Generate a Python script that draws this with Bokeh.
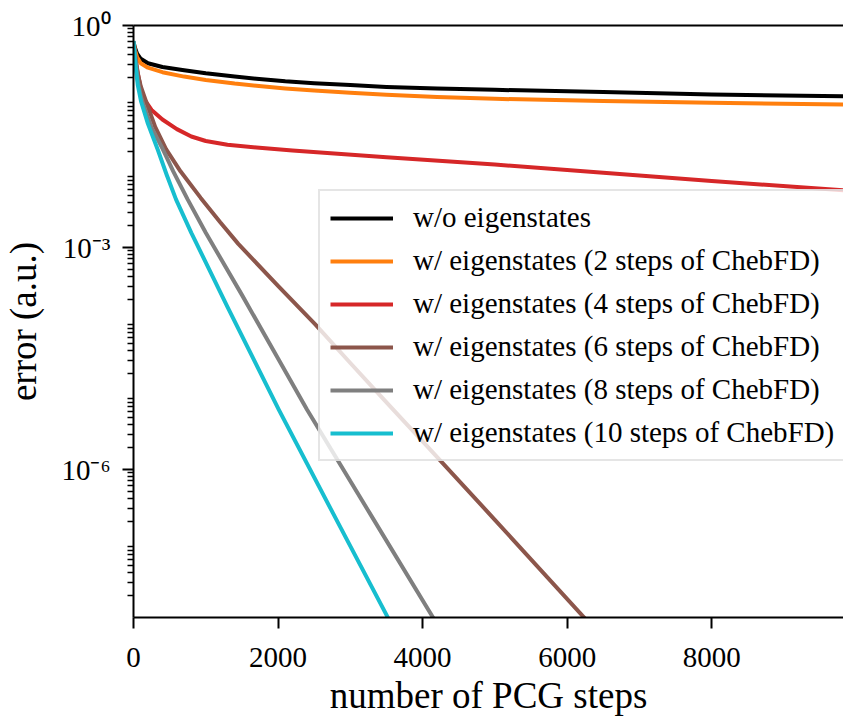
from bokeh.plotting import figure
from bokeh.models import Range1d, FixedTicker, LinearAxis, Legend, LegendItem, CustomJSTickFormatter
from bokeh.embed import file_html
from bokeh.resources import INLINE

# ---- data ----
steps_none = [0, 20, 50, 100, 200, 400, 700, 1000, 1400, 1700, 2100, 2500, 3000, 3500, 4200, 5000, 6500, 8000, 10000]
err_none = [0.603, 0.501, 0.417, 0.355, 0.309, 0.275, 0.248, 0.226, 0.204, 0.191, 0.176, 0.166, 0.157, 0.148,
            0.141, 0.135, 0.126, 0.117, 0.110]

steps_2 = [0, 20, 50, 100, 200, 400, 700, 1000, 1400, 1700, 2100, 2500, 3000, 3500, 4200, 5000, 6500, 8000, 10000]
err_2 = [0.603, 0.468, 0.372, 0.309, 0.269, 0.234, 0.204, 0.184, 0.164, 0.153, 0.141, 0.132, 0.123, 0.116,
         0.108, 0.102, 0.0955, 0.0902, 0.0851]

steps_4 = [0, 20, 50, 100, 150, 250, 400, 600, 800, 1000, 1300, 1700, 2200, 3500, 5000, 6500, 8000, 10000]
err_4 = [0.603, 0.398, 0.251, 0.141, 0.100, 0.0724, 0.0537, 0.0398, 0.0316, 0.0275, 0.0245, 0.0224, 0.0204,
         0.0166, 0.0132, 0.0102, 0.00794, 0.00575]

steps_6 = [0, 30, 60, 100, 175, 300, 450, 650, 930, 1200, 1450, 2000, 2515, 3000, 3478, 4074, 5000, 6300]
err_6 = [0.603, 0.355, 0.224, 0.151, 0.0933, 0.0427, 0.0214, 0.0107, 0.00468, 0.00219, 0.00112, 3.02e-4,
         9.12e-5, 2.75e-5, 8.51e-6, 2.0e-6, 2.09e-7, 8.51e-9]

steps_8 = [0, 30, 60, 100, 134, 250, 405, 550, 749, 1000, 1500, 2000, 2400, 3300, 4200]
err_8 = [0.603, 0.316, 0.178, 0.112, 0.0871, 0.0417, 0.0214, 0.0107, 0.00447, 0.00158, 2.29e-4, 3.16e-5,
         6.46e-6, 2.29e-7, 8.13e-9]

steps_10 = [0, 30, 60, 106, 200, 336, 460, 588, 800, 1300, 2010, 2760, 3600]
err_10 = [0.617, 0.282, 0.155, 0.0933, 0.0468, 0.0209, 0.00955, 0.00447, 0.00158, 1.58e-4, 6.46e-6,
          2.57e-7, 7.08e-9]

labels = [
    "w/o eigenstates",
    "w/ eigenstates (2 steps of ChebFD)",
    "w/ eigenstates (4 steps of ChebFD)",
    "w/ eigenstates (6 steps of ChebFD)",
    "w/ eigenstates (8 steps of ChebFD)",
    "w/ eigenstates (10 steps of ChebFD)",
]
colors = ["#000000", "#ff7f0e", "#d62728", "#8c564b", "#7f7f7f", "#17becf"]
x_ticks = [0, 2000, 4000, 6000, 8000]
y_major = [1.0, 1e-3, 1e-6]

series = [
    (steps_none, err_none),
    (steps_2, err_2),
    (steps_4, err_4),
    (steps_6, err_6),
    (steps_8, err_8),
    (steps_10, err_10),
]

FONT = "Liberation Serif"

p = figure(width=843, height=718,
           x_range=Range1d(0, 9824), y_range=Range1d(1e-8, 1.0),
           y_axis_type="log",
           output_backend="svg", toolbar_location=None,
           min_border_left=129, min_border_top=25,
           min_border_bottom=100, min_border_right=0)
p.outline_line_color = None
p.xgrid.grid_line_color = None
p.ygrid.grid_line_color = None
p.background_fill_color = "white"
p.border_fill_color = "white"

items = []
for (xs, ys), lab, col in zip(series, labels, colors):
    r = p.line(xs, ys, line_color=col, line_width=4, line_join="round")
    items.append(LegendItem(label=lab, renderers=[r]))

# minor ticks on log axis (2..9 per decade)
minor = []
for d in range(-8, 1):
    for k in range(2, 10):
        v = k * 10.0 ** d
        if v <= 1.0:
            minor.append(v)

for ax in (p.xaxis[0], p.yaxis[0]):
    ax.axis_line_width = 2
    ax.axis_line_color = "black"
    ax.major_tick_in = 0
    ax.major_tick_out = 11
    ax.major_tick_line_width = 2
    ax.major_tick_line_color = "black"
    ax.minor_tick_in = 0
    ax.minor_tick_out = 6
    ax.minor_tick_line_width = 1.5
    ax.minor_tick_line_color = "black"
    ax.major_label_text_font = FONT
    ax.major_label_text_font_size = "29px"
    ax.major_label_text_font_style = "normal"
    ax.major_label_text_color = "black"
    ax.axis_label_text_font = FONT
    ax.axis_label_text_font_size = "37px"
    ax.axis_label_text_font_style = "normal"
    ax.axis_label_text_color = "black"

p.xaxis.ticker = FixedTicker(ticks=x_ticks)
p.xaxis.minor_tick_line_color = None
p.xaxis.axis_label = "number of PCG steps"
p.xaxis.major_label_standoff = 19
p.xaxis.axis_label_standoff = 5

p.yaxis.ticker = FixedTicker(ticks=y_major, minor_ticks=minor)
p.yaxis.formatter = CustomJSTickFormatter(code="""
const e = Math.round(Math.log10(tick));
const sup = {'0':'\u2070','1':'\u00b9','2':'\u00b2','3':'\u00b3','4':'\u2074','5':'\u2075','6':'\u2076','7':'\u2077','8':'\u2078','9':'\u2079','-':'\u207b'};
return '10' + String(e).split('').map(c => sup[c]).join('');
""")
p.yaxis.axis_label = "error (a.u.)"
p.yaxis.major_label_standoff = 12
p.yaxis.axis_label_standoff = 14

top = LinearAxis(ticker=FixedTicker(ticks=[]), axis_line_width=2, axis_line_color="black",
                 major_tick_line_color=None, minor_tick_line_color=None,
                 major_label_text_font_size="0px")
p.add_layout(top, "above")

legend = Legend(items=items, location=(185, 156),
                label_text_font=FONT, label_text_font_size="29px", label_text_color="black",
                label_text_font_style="normal",
                glyph_width=63, glyph_height=30, label_height=30, spacing=10,
                padding=10, label_standoff=20, margin=0,
                border_line_color="#cccccc", border_line_width=2,
                background_fill_color="white", background_fill_alpha=0.8)
p.add_layout(legend)

with open("out.html", "w", encoding="utf-8") as f:
    f.write(file_html(p, INLINE))
